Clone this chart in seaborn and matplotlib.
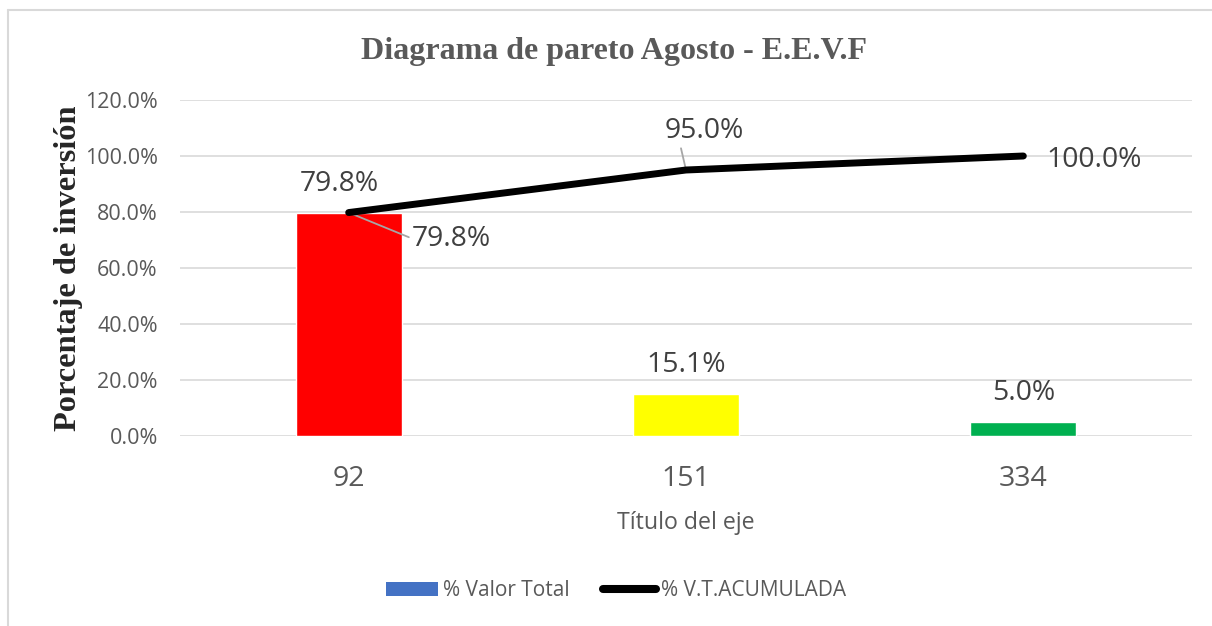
import matplotlib
matplotlib.use("Agg")
import matplotlib.pyplot as plt
from matplotlib.lines import Line2D
from matplotlib.patches import Patch
import seaborn as sns
import pandas as pd

# Pareto data for August
categories = ["92", "151", "334"]
pct_total = [79.8, 15.1, 5.0]
pct_cumulative = [79.8, 95.0, 100.0]
bar_colors = ["#FF0000", "#FFFF00", "#00B050"]
y_ticks = [0, 20, 40, 60, 80, 100, 120]

sns.set_theme(style="white")
plt.rcParams["font.family"] = ["Open Sans", "DejaVu Sans"]

TEXT_GRAY = "#595959"
GRID_GRAY = "#D9D9D9"

fig = plt.figure(figsize=(12.12, 6.26), dpi=100)
ax = fig.add_axes([180 / 1212, 1 - 436 / 626, 1012 / 1212, 336 / 626])

df = pd.DataFrame({"cat": categories, "pct": pct_total})
sns.barplot(data=df, x="cat", y="pct", hue="cat", palette=bar_colors,
            order=categories, hue_order=categories, width=0.315,
            legend=False, ax=ax, saturation=1)

xs = list(range(len(categories)))
ax.plot(xs, pct_cumulative, color="black", lw=5, solid_capstyle="round",
        solid_joinstyle="round", zorder=4)

ax.set_xlim(-0.5, len(categories) - 0.5)
ax.set_ylim(0, 120)
ax.set_yticks(y_ticks)
ax.set_yticklabels([f"{v:.1f}%" for v in y_ticks])
ax.yaxis.grid(True, color=GRID_GRAY, lw=1.2)
ax.set_axisbelow(True)
for s in ax.spines.values():
    s.set_visible(False)
ax.tick_params(axis="y", length=0, pad=16, labelsize=15.5, labelcolor=TEXT_GRAY)
ax.tick_params(axis="x", length=0, pad=21, labelsize=20.5, labelcolor=TEXT_GRAY)

ax.set_xlabel("Título del eje", fontsize=16.7, color=TEXT_GRAY, labelpad=13)
ax.set_ylabel("Porcentaje de inversión", fontsize=23.3, fontweight="bold",
              family="Liberation Serif", color="#262626", labelpad=1)

fig.text(614 / 1212, 1 - 51 / 626, "Diagrama de pareto Agosto - E.E.V.F",
         ha="center", va="center", fontsize=23, fontweight="bold",
         family="Liberation Serif", color=TEXT_GRAY)

label_kw = dict(fontsize=20.3, color="#404040", ha="center", va="center",
                textcoords="offset pixels")

# bar value labels
for x, v in zip(xs, pct_total):
    dx = -9 if x == 0 else 0
    ax.annotate(f"{v:.1f}%", (x, v), xytext=(dx, 29), **label_kw)

# cumulative line labels with leader lines
leader = dict(arrowstyle="-", color="#A6A6A6", lw=1.3, shrinkA=0, shrinkB=0)
ax.annotate(f"{pct_cumulative[0]:.1f}%", (xs[0], pct_cumulative[0]),
            xytext=(103, -26), arrowprops=dict(leader, relpos=(0, 0.5)),
            **label_kw)
ax.annotate(f"{pct_cumulative[1]:.1f}%", (xs[1], pct_cumulative[1]),
            xytext=(18, 39), arrowprops=dict(leader, relpos=(0.2, 0.0)),
            **label_kw)
ax.annotate(f"{pct_cumulative[2]:.1f}%", (xs[2], pct_cumulative[2]),
            xytext=(71, -4), **label_kw)

handles = [Patch(facecolor="#4472C4", edgecolor="none"),
           Line2D([0], [0], color="black", lw=5.8, solid_capstyle="round")]
fig.legend(handles, ["% Valor Total", "% V.T.ACUMULADA"],
           loc="center", bbox_to_anchor=(616 / 1212, 1 - 591 / 626), ncol=2,
           frameon=False, fontsize=15, labelcolor=TEXT_GRAY,
           handlelength=2.5, handleheight=0.65, handletextpad=0.25,
           columnspacing=1.6)

# chart area frame (top and left edges)
fig.add_artist(Line2D([7.5 / 1212, 7.5 / 1212], [0, 1 - 10 / 626],
                      transform=fig.transFigure, color=GRID_GRAY, lw=1.5))
fig.add_artist(Line2D([7.5 / 1212, 1], [1 - 10 / 626, 1 - 10 / 626],
                      transform=fig.transFigure, color=GRID_GRAY, lw=1.5))

fig.savefig("out.png", dpi=100)
